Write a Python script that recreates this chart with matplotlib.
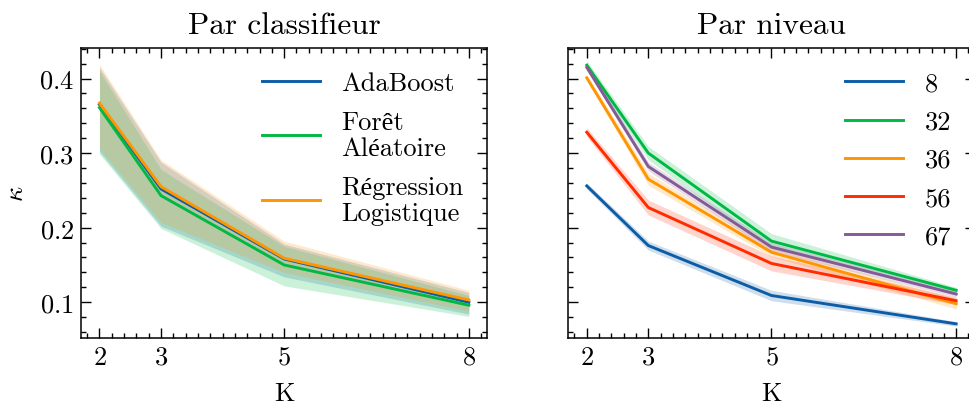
import matplotlib
matplotlib.use("Agg")
import matplotlib.pyplot as plt
from matplotlib.ticker import MultipleLocator

plt.rcParams['font.family'] = ['cmr10', 'Liberation Serif']
plt.rcParams['mathtext.fontset'] = 'cm'
plt.rcParams['axes.formatter.use_mathtext'] = True
plt.rcParams['axes.linewidth'] = 1.1

K = [2, 3, 5, 8]

# Par classifieur
clf_names = ['AdaBoost', 'Forêt\nAléatoire', 'Régression\nLogistique']
clf_mean = [
    [0.365, 0.252, 0.158, 0.100],
    [0.361, 0.243, 0.150, 0.096],
    [0.367, 0.255, 0.159, 0.103],
]
clf_low = [
    [0.302, 0.202, 0.134, 0.084],
    [0.299, 0.199, 0.122, 0.081],
    [0.306, 0.207, 0.140, 0.088],
]
clf_high = [
    [0.415, 0.288, 0.178, 0.113],
    [0.410, 0.278, 0.175, 0.109],
    [0.419, 0.291, 0.182, 0.116],
]

# Par niveau
lvl_names = ['8', '32', '36', '56', '67']
lvl_mean = [
    [0.256, 0.176, 0.109, 0.071],
    [0.418, 0.300, 0.182, 0.116],
    [0.401, 0.265, 0.167, 0.098],
    [0.328, 0.227, 0.152, 0.102],
    [0.415, 0.282, 0.174, 0.111],
]
lvl_std = [
    [0.004, 0.006, 0.007, 0.003],
    [0.006, 0.009, 0.010, 0.004],
    [0.004, 0.008, 0.006, 0.007],
    [0.006, 0.010, 0.010, 0.005],
    [0.004, 0.006, 0.006, 0.004],
]
lvl_low = [[a - b for a, b in zip(m, s)] for m, s in zip(lvl_mean, lvl_std)]
lvl_high = [[a + b for a, b in zip(m, s)] for m, s in zip(lvl_mean, lvl_std)]

colors = ['#0C5DA5', '#00B945', '#FF9500', '#FF2C00', '#845B97']

fig = plt.figure(figsize=(9.7, 4.06), dpi=100)
ax1 = fig.add_axes([0.0835, 0.165, 0.4189, 0.7143])
ax2 = fig.add_axes([0.5859, 0.165, 0.4189, 0.7143], sharey=ax1)


def draw(ax, names, means, lows, highs):
    for name, m, lo, hi, c in zip(names, means, lows, highs, colors):
        ax.fill_between(K, lo, hi, color=c, alpha=0.2, lw=0)
        ax.plot(K, m, color=c, lw=2.1, label=name)


draw(ax1, clf_names, clf_mean, clf_low, clf_high)
draw(ax2, lvl_names, lvl_mean, lvl_low, lvl_high)

for ax in (ax1, ax2):
    ax.set_xlim(1.7, 8.3)
    ax.set_xticks(K)
    ax.xaxis.set_minor_locator(MultipleLocator(0.2))
    ax.yaxis.set_major_locator(MultipleLocator(0.1))
    ax.yaxis.set_minor_locator(MultipleLocator(0.02))
    ax.tick_params(which='both', direction='in', top=True, right=True,
                   labelsize=19, width=1.0)
    ax.tick_params(which='major', length=7, pad=5)
    ax.tick_params(which='minor', length=3.5)
    ax.set_xlabel('K', fontsize=19, labelpad=9)
    leg = ax.legend(frameon=False, fontsize=19, loc='upper right',
                    handlelength=2.2, handletextpad=0.8, labelspacing=0.55)
    for t in leg.get_texts():
        t.set_linespacing(1.15)

ax1.set_ylim(0.052, 0.441)
ax1.set_ylabel(r'$\kappa$', fontsize=19, labelpad=8)
ax2.tick_params(labelleft=False)
ax1.set_title('Par classifieur', fontsize=22.5, pad=11)
ax2.set_title('Par niveau', fontsize=22.5, pad=11)

fig.savefig('out.png', dpi=100)
